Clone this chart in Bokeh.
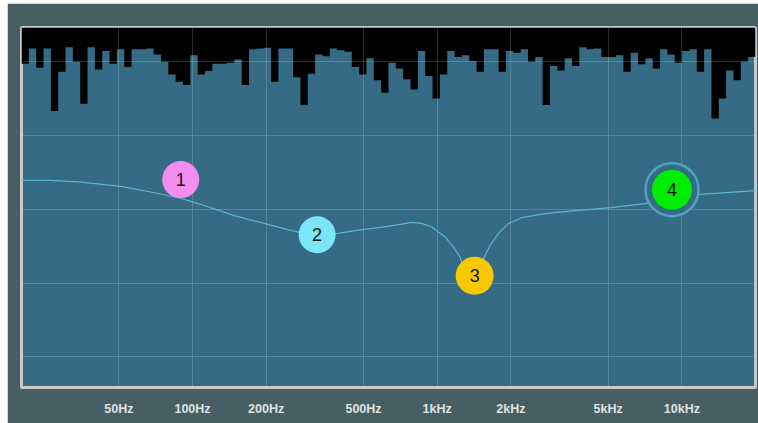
import numpy as np
from bokeh.plotting import figure
from bokeh.models import FixedTicker
from bokeh.core.properties import value
from bokeh.embed import file_html
from bokeh.resources import INLINE

# ---- axes ----
F_MIN, F_MAX = 20, 20000
DB_MIN, DB_MAX = -14.5, 14.8
tick_freqs = [50, 100, 200, 500, 1000, 2000, 5000, 10000]
tick_labels = ["50Hz", "100Hz", "200Hz", "500Hz", "1kHz", "2kHz", "5kHz", "10kHz"]
gain_grid = [-12, -6, 0, 6, 12]

# ---- EQ response curve (Hz, dB) ----
curve_freq = [20, 26.4, 35.0, 51.0, 67.5, 89.5, 108, 147, 203, 252, 290, 327, 392,
              486, 587, 708, 785, 865, 950, 1078, 1165, 1240, 1304, 1380, 1460,
              1545, 1645, 1778, 1953, 2214, 2758, 3771, 5157, 7059, 8955, 11873, 20000]
curve_gain = [2.36, 2.36, 2.22, 1.87, 1.41, 0.90, 0.41, -0.49, -1.22, -1.71, -1.99, -2.12, -1.95,
              -1.67, -1.46, -1.22, -1.06, -1.14, -1.44, -2.25, -3.07, -3.88, -5.13, -6.18, -5.13,
              -4.01, -2.93, -1.98, -1.16, -0.68, -0.35, -0.08, 0.14, 0.46, 0.89, 1.22, 1.53]

# ---- EQ band handles ----
band_ids = ["1", "2", "3", "4"]
band_freq = [89.5, 323, 1423, 9114]
band_gain = [2.42, -2.07, -5.41, 1.60]
band_colors = ["#f38ef0", "#7ae6f8", "#f9c900", "#00ec00"]
band_size = [37, 37, 38, 40]
selected_band = 3

# ---- spectrum analyser levels (100 log-spaced bins, dB on the same scale) ----
spectrum_level = [
    11.85, 13.10, 11.53, 13.10, 8.00, 11.20, 13.20, 12.02, 8.60, 13.20,
    11.39, 12.88, 11.85, 13.02, 11.58, 13.02, 13.02, 13.10, 12.61, 12.02,
    10.98, 10.39, 10.11, 12.55, 10.98, 11.25, 11.85, 11.85, 11.94, 12.20,
    10.11, 13.02, 13.10, 13.16, 10.39, 13.10, 13.10, 10.76, 8.49, 11.04,
    12.61, 12.47, 13.10, 12.94, 12.83, 11.58, 10.98, 12.29, 10.50, 9.49,
    11.94, 11.47, 10.58, 9.76, 12.88, 10.85, 9.03, 10.98, 12.88, 12.39,
    12.55, 12.07, 11.20, 13.02, 13.02, 11.20, 12.88, 12.75, 13.02, 12.02,
    12.39, 8.49, 11.66, 11.31, 12.29, 11.66, 13.20, 13.02, 13.10, 12.39,
    12.39, 12.55, 11.20, 12.75, 11.80, 12.29, 11.47, 13.02, 12.61, 11.94,
    12.88, 13.02, 11.20, 13.02, 7.40, 9.03, 11.31, 10.50, 12.02, 12.39,
]
bin_edges = np.logspace(np.log10(F_MIN), np.log10(F_MAX), len(spectrum_level) + 1)

PLOT_BG = "#356b85"

p = figure(width=751, height=420, x_axis_type="log",
           x_range=(F_MIN, F_MAX), y_range=(DB_MIN, DB_MAX),
           output_backend="svg", toolbar_location=None,
           min_border_left=14, min_border_right=3, min_border_top=24, min_border_bottom=36,
           background_fill_color=PLOT_BG, border_fill_color="#475f64",
           outline_line_color="#c8c8c8", outline_line_width=3)
p.styles = {"margin-left": "7px", "margin-top": "3px"}

# spectrum: black area hanging from the top down to each bin's level
spec = p.varea_step(x=bin_edges, y1=list(spectrum_level) + [spectrum_level[-1]], y2=DB_MAX,
                    step_mode="after", fill_color="#000000")
spec.level = "image"

# grid
p.xgrid.ticker = FixedTicker(ticks=tick_freqs)
p.ygrid.ticker = FixedTicker(ticks=gain_grid)
for g in (p.xgrid, p.ygrid):
    g.grid_line_color = "#ffffff"
    g.grid_line_alpha = 0.17
    g.grid_line_width = 1
    g.minor_grid_line_color = None

# axes
p.yaxis.visible = False
xa = p.xaxis[0]
xa.ticker = FixedTicker(ticks=tick_freqs)
xa.major_label_overrides = {f: l for f, l in zip(tick_freqs, tick_labels)}
xa.axis_line_color = None
xa.major_tick_line_color = None
xa.minor_tick_line_color = None
xa.major_label_standoff = 8
xa.major_label_text_color = "#dfe2e2"
xa.major_label_text_font = "Liberation Sans"
xa.major_label_text_font_style = "bold"
xa.major_label_text_font_size = "12.5px"

# response curve
p.line(curve_freq, curve_gain, line_color="#5cb6ce", line_width=1.2)

# selection ring around the active band
p.scatter(x=[band_freq[selected_band]], y=[band_gain[selected_band]], marker="circle",
          size=53, fill_color=PLOT_BG, line_color="#4ea2c2", line_width=2.5)

# band handles
p.scatter(x=band_freq, y=band_gain, marker="circle", size=band_size,
          fill_color=band_colors, line_color=None)
p.text(x=band_freq, y=band_gain, text=band_ids, text_align="center", text_baseline="middle",
       text_font=value("Liberation Sans"), text_font_size="18px", text_color="#111111")

open("out.html", "w").write(file_html(p, INLINE))
